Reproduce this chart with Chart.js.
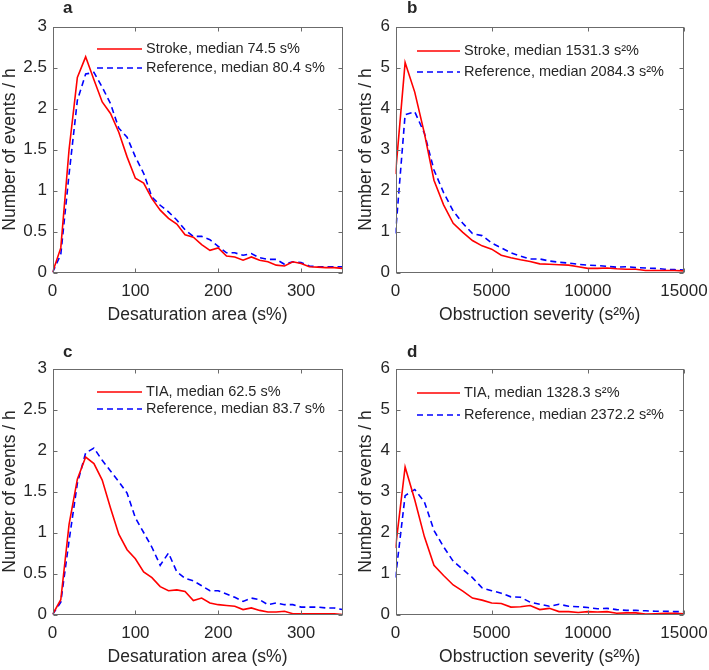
<!DOCTYPE html>
<html>
<head>
<meta charset="utf-8">
<script src="https://cdn.jsdelivr.net/npm/chart.js@4"></script>
<style>
  body { margin: 0; background: #fff; }
  #wrap { position: relative; width: 709px; height: 670px; }
  canvas { position: absolute; }
</style>
</head>
<body>
<div id="wrap">
  <canvas id="pa" width="355" height="328" style="left:0;top:0"></canvas>
  <canvas id="pb" width="355" height="328" style="left:354px;top:0"></canvas>
  <canvas id="pc" width="355" height="328" style="left:0;top:342px"></canvas>
  <canvas id="pd" width="355" height="328" style="left:354px;top:342px"></canvas>
</div>
<script>
// bin centres
const areaBins = [0,10,20,30,40,50,60,70,80,90,100,110,120,130,140,150,160,170,180,190,200,210,220,230,240,250,260,270,280,290,300,310,320,330,340,350];
const sevBins = [0,500,1000,1500,2000,2500,3000,3500,4000,4500,5000,5500,6000,6500,7000,7500,8000,8500,9000,9500,10000,10500,11000,11500,12000,12500,13000,13500,14000,14500,15000];
const areaTicks = [0, 100, 200, 300];
const sevTicks = [0, 5000, 10000, 15000];

// a: stroke vs reference, desaturation area
const strokeArea = [0,0.3,1.5,2.38,2.63,2.35,2.08,1.94,1.71,1.41,1.15,1.09,0.9,0.76,0.66,0.59,0.46,0.43,0.34,0.27,0.3,0.2,0.19,0.15,0.19,0.15,0.13,0.09,0.08,0.13,0.11,0.07,0.065,0.06,0.06,0.05];
const refAreaA = [0,0.22,1.2,2.1,2.42,2.44,2.26,2.06,1.76,1.65,1.41,1.21,0.92,0.82,0.74,0.64,0.52,0.44,0.44,0.4,0.32,0.24,0.24,0.21,0.23,0.18,0.16,0.16,0.1,0.13,0.12,0.08,0.07,0.07,0.07,0.07];

// b: stroke vs reference, obstruction severity
const strokeSev = [2.4,5.12,4.4,3.4,2.25,1.65,1.2,0.98,0.78,0.65,0.57,0.42,0.36,0.31,0.27,0.21,0.2,0.19,0.18,0.14,0.1,0.1,0.11,0.09,0.08,0.08,0.05,0.05,0.05,0.05,0.04];
const refSevB = [0.95,3.85,3.92,3.4,2.5,1.95,1.5,1.2,0.95,0.9,0.72,0.6,0.48,0.4,0.33,0.33,0.28,0.25,0.23,0.2,0.18,0.17,0.15,0.13,0.14,0.12,0.11,0.1,0.08,0.07,0.06];

// c: TIA vs reference, desaturation area
const tiaArea = [0,0.18,1.1,1.65,1.92,1.84,1.64,1.3,0.98,0.79,0.68,0.52,0.45,0.34,0.29,0.3,0.28,0.17,0.2,0.14,0.12,0.11,0.1,0.06,0.08,0.05,0.03,0.03,0.04,0.01,0.01,0.01,0.01,0.01,0.01,0];
const refAreaC = [0,0.15,0.9,1.6,1.97,2.03,1.88,1.75,1.62,1.48,1.18,1.0,0.82,0.6,0.75,0.52,0.44,0.41,0.35,0.29,0.29,0.25,0.21,0.16,0.2,0.18,0.12,0.14,0.12,0.12,0.09,0.09,0.09,0.08,0.08,0.06];

// d: TIA vs reference, obstruction severity
const tiaSev = [1.62,3.6,2.8,1.9,1.2,0.95,0.72,0.57,0.4,0.35,0.28,0.27,0.18,0.19,0.22,0.12,0.15,0.07,0.07,0.05,0.07,0.06,0.07,0.03,0.04,0.04,0.01,0.02,0.03,0.03,0.02];
const refSevD = [0.9,2.9,3.05,2.75,2.05,1.65,1.3,1.1,0.9,0.65,0.58,0.52,0.43,0.42,0.3,0.25,0.2,0.25,0.2,0.19,0.17,0.14,0.15,0.12,0.1,0.1,0.09,0.08,0.08,0.07,0.07];

const FONT = '"Liberation Sans", Arial, Helvetica, sans-serif';
const INK = '#262626';
Chart.defaults.font.family = FONT;
Chart.defaults.color = INK;

const pts = (xs, ys) => xs.map((x, i) => ({x: x, y: ys[i]}));

// MATLAB-like box with inward ticks, legend and panel letter
const matlabBox = {
  id: 'matlabBox',
  afterDraw(chart, args, o) {
    const {ctx, chartArea: a, scales: {x, y}} = chart;
    ctx.save();
    ctx.strokeStyle = '#6b6b6b';
    ctx.lineWidth = 1;
    const L = Math.round(a.left) + 0.5, R = Math.round(a.right) - 0.5;
    const T = Math.round(a.top) + 0.5, B = Math.round(a.bottom) - 0.5;
    ctx.strokeRect(L, T, R - L, B - T);
    ctx.beginPath();
    x.ticks.forEach(t => {
      const px = Math.round(x.getPixelForValue(t.value)) + 0.5;
      ctx.moveTo(px, B); ctx.lineTo(px, B - 4);
      ctx.moveTo(px, T); ctx.lineTo(px, T + 4);
    });
    y.ticks.forEach(t => {
      const py = Math.round(y.getPixelForValue(t.value)) + 0.5;
      ctx.moveTo(L, py); ctx.lineTo(L + 4, py);
      ctx.moveTo(R, py); ctx.lineTo(R - 4, py);
    });
    ctx.stroke();

    // legend
    ctx.font = '14.5px ' + FONT;
    ctx.textBaseline = 'middle';
    ctx.fillStyle = INK;
    chart.data.datasets.forEach((ds, i) => {
      const ly = o.legendY[i];
      ctx.beginPath();
      ctx.strokeStyle = ds.borderColor;
      ctx.lineWidth = ds.borderWidth;
      ctx.setLineDash(ds.borderDash || []);
      ctx.moveTo(o.legendX[0], ly);
      ctx.lineTo(o.legendX[1], ly);
      ctx.stroke();
      ctx.setLineDash([]);
      ctx.fillText(ds.label, o.legendX[2], ly);
    });

    // panel letter
    ctx.font = 'bold 17px ' + FONT;
    ctx.textBaseline = 'alphabetic';
    ctx.fillText(o.letter, o.letterX, o.letterY);
    ctx.restore();
  }
};

function panel(id, p) {
  new Chart(document.getElementById(id), {
    type: 'line',
    data: {
      datasets: [
        { label: p.labels[0], data: pts(p.xs, p.red), borderColor: '#ff0000', borderWidth: 1.6,
          pointRadius: 0, tension: 0, fill: false },
        { label: p.labels[1], data: pts(p.xs, p.blue), borderColor: '#0000ff', borderWidth: 1.6,
          borderDash: [6, 4], pointRadius: 0, tension: 0, fill: false }
      ]
    },
    options: {
      responsive: false,
      animation: false,
      events: [],
      layout: { padding: { top: 26.5, right: p.padRight, left: 0, bottom: 0 } },
      plugins: {
        legend: { display: false },
        tooltip: { enabled: false },
        matlabBox: { legendX: p.legendX, legendY: p.legendY, letter: p.letter, letterX: p.letterX, letterY: p.letterY }
      },
      scales: {
        x: {
          type: 'linear', min: 0, max: p.xMax,
          grid: { display: false, drawTicks: false }, border: { display: false },
          ticks: { autoSkip: false, padding: 9, font: { size: 17 }, maxRotation: 0, callback: v => String(v) },
          afterBuildTicks: s => { s.ticks = p.xTicks.map(v => ({ value: v })); },
          title: { display: true, text: p.xTitle, font: { size: 17.5 }, padding: { top: 0, bottom: 2.5 } },
          afterFit: s => { s.height = 55.5; s.paddingLeft = 0; s.paddingRight = 0; }
        },
        y: {
          min: 0, max: p.yMax,
          grid: { display: false, drawTicks: false }, border: { display: false },
          ticks: { stepSize: p.yStep, padding: 5.5, font: { size: 17 }, callback: v => String(v) },
          title: { display: true, text: 'Number of events / h', font: { size: 17.5 }, padding: { top: p.yTitlePad, bottom: 0 } },
          afterFit: s => { s.width = p.yWidth; s.paddingTop = 0; s.paddingBottom = 0; }
        }
      }
    },
    plugins: [matlabBox]
  });
}

const areaPanel = { xs: areaBins, xMax: 350, xTicks: areaTicks, yMax: 3, yStep: 0.5, xTitle: 'Desaturation area (s%)',
  yWidth: 52.5, padRight: 12.5, yTitlePad: 0, legendX: [97, 142, 146], letterX: 63 };
const sevPanel = { xs: sevBins, xMax: 15000, xTicks: sevTicks, yMax: 6, yStep: 1, xTitle: 'Obstruction severity (s²%)',
  yWidth: 41.5, padRight: 25, yTitlePad: 1.5, legendX: [63, 106, 110], letterX: 53 };

panel('pa', Object.assign({}, areaPanel, { red: strokeArea, blue: refAreaA, letter: 'a', letterY: 13, legendY: [49, 68],
  labels: ['Stroke, median 74.5 s%', 'Reference, median 80.4 s%'] }));
panel('pb', Object.assign({}, sevPanel, { red: strokeSev, blue: refSevB, letter: 'b', letterY: 13, legendY: [51, 72],
  labels: ['Stroke, median 1531.3 s²%', 'Reference, median 2084.3 s²%'] }));
panel('pc', Object.assign({}, areaPanel, { red: tiaArea, blue: refAreaC, letter: 'c', letterY: 15, legendY: [50, 67],
  labels: ['TIA, median 62.5 s%', 'Reference, median 83.7 s%'] }));
panel('pd', Object.assign({}, sevPanel, { red: tiaSev, blue: refSevD, letter: 'd', letterY: 15, legendY: [51, 73],
  labels: ['TIA, median 1328.3 s²%', 'Reference, median 2372.2 s²%'] }));
</script>
</body>
</html>
